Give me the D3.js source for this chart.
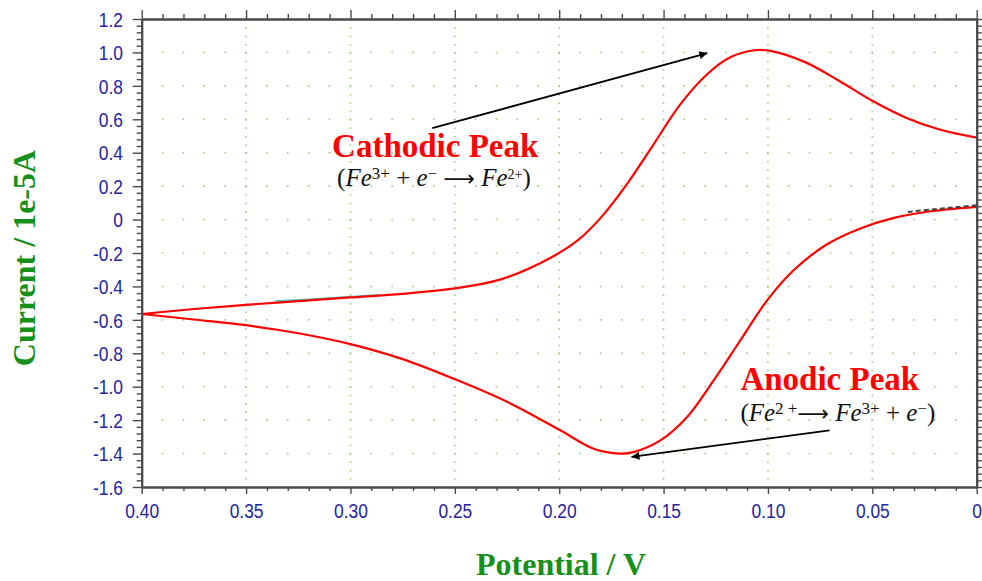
<!DOCTYPE html>
<html>
<head>
<meta charset="utf-8">
<script src="https://cdn.jsdelivr.net/npm/d3@7"></script>
<style>
  html, body { margin: 0; padding: 0; background: #ffffff; }
  svg { display: block; }
</style>
</head>
<body>
<script>
// ---------------- data ----------------
// forward (cathodic) sweep: 0.40 V -> 0 V
const forwardE = [0.400, 0.375, 0.350, 0.325, 0.300, 0.275, 0.252, 0.228, 0.2036, 0.1907, 0.1793, 0.168, 0.155, 0.142, 0.129, 0.1178, 0.1065, 0.0983, 0.0822, 0.066, 0.0498, 0.0336, 0.0174, 0.000];
const forwardI = [-0.565, -0.535, -0.510, -0.488, -0.466, -0.444, -0.415, -0.358, -0.225, -0.120, 0.022, 0.204, 0.446, 0.689, 0.871, 0.972, 1.013, 1.008, 0.942, 0.831, 0.709, 0.608, 0.537, 0.490];
// reverse (anodic) sweep: 0 V -> 0.40 V
const reverseE = [0.000, 0.0237, 0.0397, 0.0557, 0.0717, 0.0877, 0.1004, 0.1132, 0.126, 0.1387, 0.1515, 0.1644, 0.1707, 0.1835, 0.1995, 0.225, 0.250, 0.275, 0.300, 0.325, 0.350, 0.375, 0.400];
const reverseI = [0.076, 0.047, 0.010, -0.053, -0.148, -0.303, -0.483, -0.722, -0.962, -1.181, -1.321, -1.391, -1.400, -1.371, -1.261, -1.090, -0.955, -0.835, -0.745, -0.680, -0.632, -0.598, -0.565];
// faint traces of another cycle peeking out under/over the red curve
const cyanE = [0.336, 0.320, 0.305, 0.286];
const cyanI = [-0.488, -0.478, -0.466, -0.452];
const darkE = [0.033, 0.020, 0.010, 0.000];
const darkI = [0.046, 0.062, 0.074, 0.086];

const xMajorTicks = [0.40, 0.35, 0.30, 0.25, 0.20, 0.15, 0.10, 0.05, 0.00];
const xTickLabels = ["0.40", "0.35", "0.30", "0.25", "0.20", "0.15", "0.10", "0.05", "0"];
const yMajorTicks = [1.2, 1.0, 0.8, 0.6, 0.4, 0.2, 0, -0.2, -0.4, -0.6, -0.8, -1.0, -1.2, -1.4, -1.6];
const yTickLabels = ["1.2", "1.0", "0.8", "0.6", "0.4", "0.2", "0", "-0.2", "-0.4", "-0.6", "-0.8", "-1.0", "-1.2", "-1.4", "-1.6"];

const xTitle = "Potential / V";
const yTitle = "Current / 1e-5A";

// annotations (data coordinates)
const cathodicTitle = { text: "Cathodic Peak", E: 0.3088, I: 0.374 };
const cathodicFormula = { E: 0.3064, I: 0.200 };
const cathodicArrow = { E1: 0.2608, I1: 0.547, E2: 0.129, I2: 0.996 };
const anodicTitle = { text: "Anodic Peak", E: 0.1132, I: -1.022 };
const anodicFormula = { E: 0.1132, I: -1.205 };
const anodicArrow = { E1: 0.0705, I1: -1.261, E2: 0.1654, I2: -1.420 };

// ---------------- layout ----------------
const W = 982, H = 581;
const pLeft = 141.7, pRight = 976.7, pTop = 19, pBottom = 487;

const svg = d3.select("body").append("svg").attr("width", W).attr("height", H);

const x = d3.scaleLinear().domain([0.40, 0.0]).range([pLeft, pRight]);
const y = d3.scaleLinear().domain([-1.6, 1.2]).range([pBottom, pTop]);

const xMinor = d3.range(0, 41).map(i => +(i * 0.01).toFixed(2)).filter(v => !xMajorTicks.some(m => Math.abs(m - v) < 1e-9));
const yMinor = d3.range(-40, 31).map(i => +(i * 0.04).toFixed(2)).filter(v => !yMajorTicks.some(m => Math.abs(m - v) < 1e-9));

// ---------------- grid ----------------
const gridColor = "#9fcb82";
const grid = svg.append("g");
const xStep = Math.abs(x(0.01) - x(0));
grid.selectAll("line.hg").data(yMajorTicks.slice(1, -1)).join("line")
  .attr("x1", pLeft - 0.8).attr("x2", pRight)
  .attr("y1", d => y(d)).attr("y2", d => y(d))
  .attr("stroke", gridColor).attr("stroke-width", 1.6)
  .attr("stroke-dasharray", `1.6,${(xStep - 1.6).toFixed(2)}`);
grid.selectAll("line.vg").data(xMajorTicks.slice(1, -1)).join("line")
  .attr("x1", d => x(d)).attr("x2", d => x(d))
  .attr("y1", pTop).attr("y2", pBottom)
  .attr("stroke", gridColor).attr("stroke-width", 1.6)
  .attr("stroke-dasharray", "1.5,6.85");

// ---------------- curves ----------------
const line = d3.line().x(d => x(d[0])).y(d => y(d[1])).curve(d3.curveCatmullRom.alpha(0.5));
const zip = (a, b) => a.map((v, i) => [v, b[i]]);

svg.append("path").datum(zip(cyanE, cyanI)).attr("d", line)
  .attr("fill", "none").attr("stroke", "#45c8c8").attr("stroke-width", 2);
svg.append("path").datum(zip(forwardE, forwardI)).attr("d", line)
  .attr("fill", "none").attr("stroke", "#ff0000").attr("stroke-width", 2.2);
svg.append("path").datum(zip(reverseE, reverseI)).attr("d", line)
  .attr("fill", "none").attr("stroke", "#ff0000").attr("stroke-width", 2.2);
svg.append("path").datum(zip(darkE, darkI)).attr("d", line)
  .attr("fill", "none").attr("stroke", "#444").attr("stroke-width", 2)
  .attr("stroke-dasharray", "5,3");

// ---------------- axes ----------------
const axisColor = "#4a4a4a";
const labelColor = "#2424a0";
function styleAxis(g) {
  g.select(".domain").attr("stroke", axisColor).attr("stroke-width", 2);
  g.selectAll(".tick line").attr("stroke", axisColor).attr("stroke-width", 1.4);
}
const tickFont = g => g.attr("fill", labelColor)
  .style("font-family", "'Liberation Sans', Arial, sans-serif")
  .style("font-size", "20px");
// bottom
const gxMinor = svg.append("g").attr("transform", `translate(0,${pBottom})`)
  .call(d3.axisBottom(x).tickValues(xMinor).tickSize(4).tickFormat("").tickSizeOuter(0));
styleAxis(gxMinor);
const gx = svg.append("g").attr("transform", `translate(0,${pBottom})`)
  .call(d3.axisBottom(x).tickValues(xMajorTicks).tickSize(7).tickSizeOuter(0)
    .tickFormat((d, i) => xTickLabels[i]));
styleAxis(gx);
gx.selectAll(".tick text")
  .attr("y", 31).attr("dy", 0)
  .attr("transform", "scale(0.87,1)")
  .call(tickFont);
// top
const gtMinor = svg.append("g").attr("transform", `translate(0,${pTop})`)
  .call(d3.axisTop(x).tickValues(xMinor).tickSize(5).tickFormat("").tickSizeOuter(0));
styleAxis(gtMinor);
const gt = svg.append("g").attr("transform", `translate(0,${pTop})`)
  .call(d3.axisTop(x).tickValues(xMajorTicks).tickSize(9).tickFormat("").tickSizeOuter(0));
styleAxis(gt);
// left
const gyMinor = svg.append("g").attr("transform", `translate(${pLeft},0)`)
  .call(d3.axisLeft(y).tickValues(yMinor).tickSize(5).tickFormat("").tickSizeOuter(0));
styleAxis(gyMinor);
const gy = svg.append("g").attr("transform", `translate(${pLeft},0)`)
  .call(d3.axisLeft(y).tickValues(yMajorTicks).tickSize(9).tickSizeOuter(0)
    .tickFormat((d, i) => yTickLabels[i]));
styleAxis(gy);
gy.selectAll(".tick text")
  .attr("x", -21.5).attr("dy", "0.36em")
  .attr("transform", "scale(0.87,1)")
  .call(tickFont);
// right
const grMinor = svg.append("g").attr("transform", `translate(${pRight},0)`)
  .call(d3.axisRight(y).tickValues(yMinor).tickSize(5).tickFormat("").tickSizeOuter(0));
styleAxis(grMinor);
const gr = svg.append("g").attr("transform", `translate(${pRight},0)`)
  .call(d3.axisRight(y).tickValues(yMajorTicks).tickSize(9).tickFormat("").tickSizeOuter(0));
styleAxis(gr);

// ---------------- axis titles ----------------
const titleColor = "#17901a";
svg.append("text")
  .attr("x", 561).attr("y", 575)
  .attr("text-anchor", "middle")
  .attr("fill", titleColor)
  .style("font-family", "'Liberation Serif', 'Times New Roman', serif")
  .style("font-weight", "bold").style("font-size", "32px")
  .text(xTitle);
svg.append("text")
  .attr("transform", "translate(35,258) rotate(-90)")
  .attr("text-anchor", "middle")
  .attr("fill", titleColor)
  .style("font-family", "'Liberation Serif', 'Times New Roman', serif")
  .style("font-weight", "bold").style("font-size", "32px")
  .text(yTitle);

// ---------------- annotations ----------------
svg.append("defs").append("marker")
  .attr("id", "arrow").attr("viewBox", "0 0 10 10")
  .attr("refX", 10).attr("refY", 5)
  .attr("markerWidth", 10).attr("markerHeight", 8)
  .attr("markerUnits", "userSpaceOnUse")
  .attr("orient", "auto")
  .append("path").attr("d", "M0,0 L10,5 L0,10 z").attr("fill", "#000");

function arrow(a) {
  svg.append("line")
    .attr("x1", x(a.E1)).attr("y1", y(a.I1))
    .attr("x2", x(a.E2)).attr("y2", y(a.I2))
    .attr("stroke", "#000").attr("stroke-width", 1.8)
    .attr("marker-end", "url(#arrow)");
}
arrow(cathodicArrow);
arrow(anodicArrow);

function peakTitle(t) {
  svg.append("text")
    .attr("x", x(t.E)).attr("y", y(t.I))
    .attr("fill", "#ff0000")
    .style("font-family", "'Liberation Serif', 'Times New Roman', serif")
    .style("font-weight", "bold").style("font-size", "33px")
    .text(t.text);
}
peakTitle(cathodicTitle);
peakTitle(anodicTitle);

// formula pieces: [text, kind]  kind: n = normal, i = italic, s/ss = superscript, a = arrow
function formula(f, parts) {
  const t = svg.append("text")
    .attr("x", x(f.E)).attr("y", y(f.I))
    .attr("fill", "#111")
    .style("font-family", "'Liberation Serif', 'DejaVu Serif', serif")
    .style("font-size", "25px");
  let raised = false;
  parts.forEach(([s, k]) => {
    const sp = t.append("tspan").text(s);
    if (k === "i") sp.style("font-style", "italic");
    if (k === "s" || k === "ss") {
      sp.style("font-size", k === "ss" ? "14px" : "17px");
      if (!raised) { sp.attr("dy", -7); raised = true; }
    } else if (raised) {
      sp.attr("dy", 7); raised = false;
    }
    if (k === "a") sp.style("font-family", "'DejaVu Sans', sans-serif").style("font-size", "22px");
  });
}
formula(cathodicFormula, [
  ["(", "n"], ["Fe", "i"], ["3+", "s"], [" + ", "n"], ["e", "i"], ["\u2212", "s"],
  [" ", "n"], ["\u27F6", "a"], [" ", "n"], ["Fe", "i"], ["2+", "ss"], [")", "n"]
]);
formula(anodicFormula, [
  ["(", "n"], ["Fe", "i"], ["2 +", "s"], ["\u27F6", "a"], [" ", "n"], ["Fe", "i"], ["3+", "s"],
  [" + ", "n"], ["e", "i"], ["\u2212", "s"], [")", "n"]
]);
</script>
</body>
</html>
